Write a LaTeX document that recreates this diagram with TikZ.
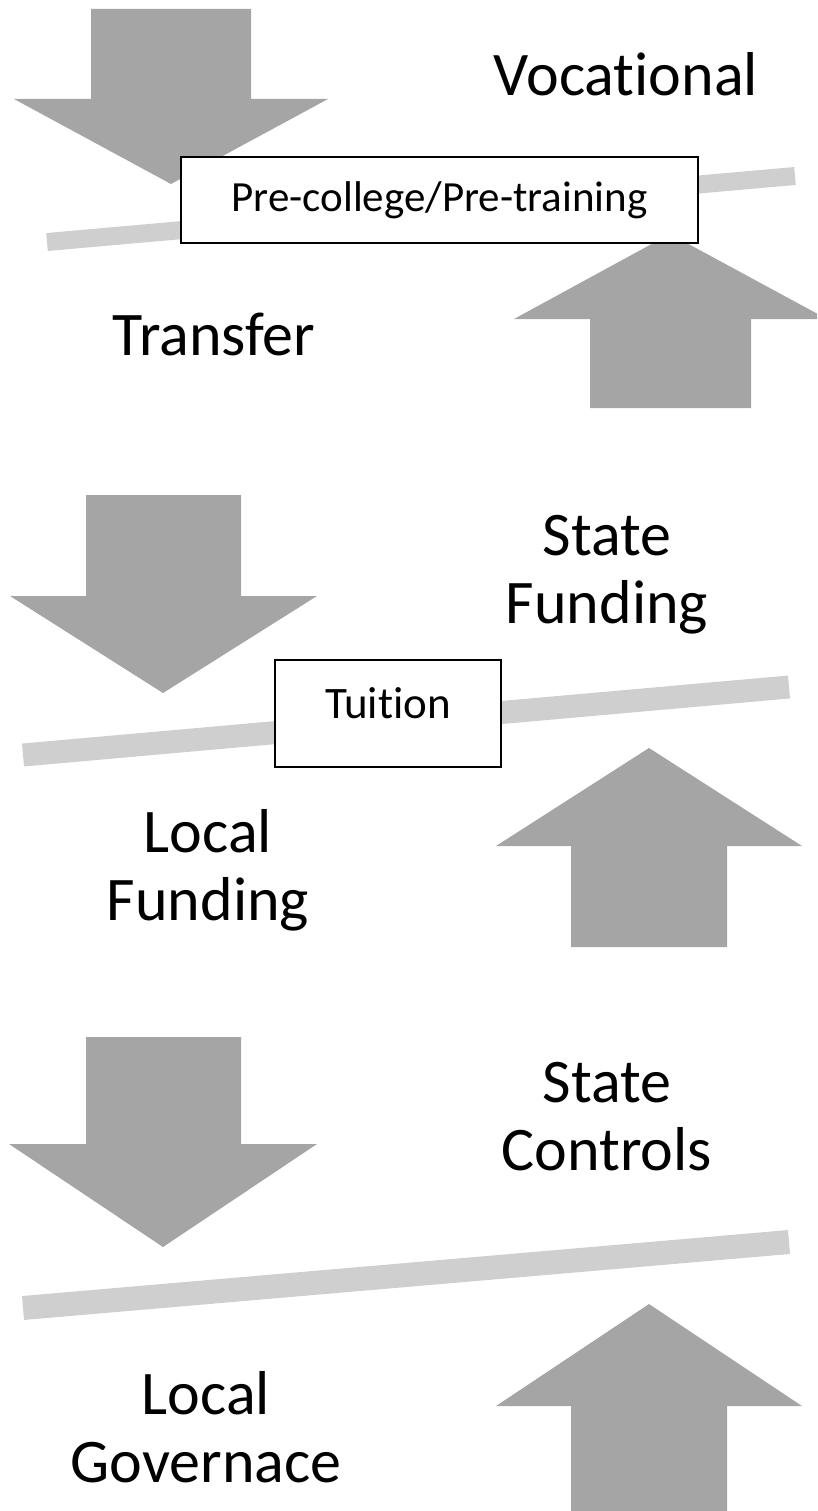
\documentclass[tikz,border=0pt]{standalone}
\usepackage{fontspec}
\setmainfont{Carlito}[Ligatures={NoCommon}]
\usepackage{tikz}
\definecolor{pushgray}{HTML}{A5A5A5}
\definecolor{beamgray}{HTML}{CFCFCF}
\tikzset{
  push/.style={fill=pushgray},
  beam/.style={draw=beamgray, line cap=butt},
  box/.style={draw=black, fill=white, line width=1.4pt, inner sep=0pt},
  lab/.style={align=center, inner sep=0pt, font=\fontsize{62}{68}\selectfont},
}

\begin{document}
\begin{tikzpicture}[x=1pt,y=-1pt]
  \useasboundingbox (0,0) rectangle (817,1511);
  \clip (0,0) rectangle (817,1511);
  % panel 1
  \draw[beam, line width=18pt] (47,242) -- (795,176);
  \fill[push] (91,9) -- (251,9) -- (251,99) -- (328,99) -- (171,184) -- (14,99) -- (91,99) -- cycle;
  \fill[push] (590,408) -- (751,408) -- (751,319) -- (827,319) -- (670,234) -- (514,319) -- (590,319) -- cycle;
  \node[box, font=\fontsize{43}{48}\selectfont, minimum width=517pt, minimum height=86pt, text height=24pt, text depth=0pt] (pre) at (439.5,200) {Pre-college/Pre-training};
  \node[lab, anchor=base] (voc) at (626,96) {Vocational};
  \node[lab, anchor=base] (trans) at (214,355) {Transfer};
  % panel 2
  \draw[beam, line width=23pt] (23,755) -- (789,687);
  \fill[push] (86,495) -- (241,495) -- (241,596) -- (317,596) -- (163,693) -- (10,596) -- (86,596) -- cycle;
  \fill[push] (571,947) -- (727,947) -- (727,846) -- (802,846) -- (649,748) -- (496,846) -- (571,846) -- cycle;
  \node[box, font=\fontsize{45}{50}\selectfont, minimum width=226pt, minimum height=107pt, text height=14pt, text depth=4pt] (tuit) at (388,713.5) {Tuition};
  \node[lab] (sfund) at (607,575) {State\\Funding};
  \node[lab] (lfund) at (208,870) {Local\\Funding};
  % panel 3
  \draw[beam, line width=24pt] (23,1308) -- (789,1242);
  \fill[push] (86,1037) -- (241,1037) -- (241,1144) -- (317,1144) -- (163,1247) -- (9,1144) -- (86,1144) -- cycle;
  \fill[push] (571,1520) -- (727,1520) -- (727,1406) -- (802,1406) -- (649,1304) -- (496,1406) -- (571,1406) -- cycle;
  \node[lab] (sctrl) at (607,1117) {State\\Controls};
  \node[lab] (lgov) at (206,1427) {Local\\Governace};
\end{tikzpicture}
\end{document}
